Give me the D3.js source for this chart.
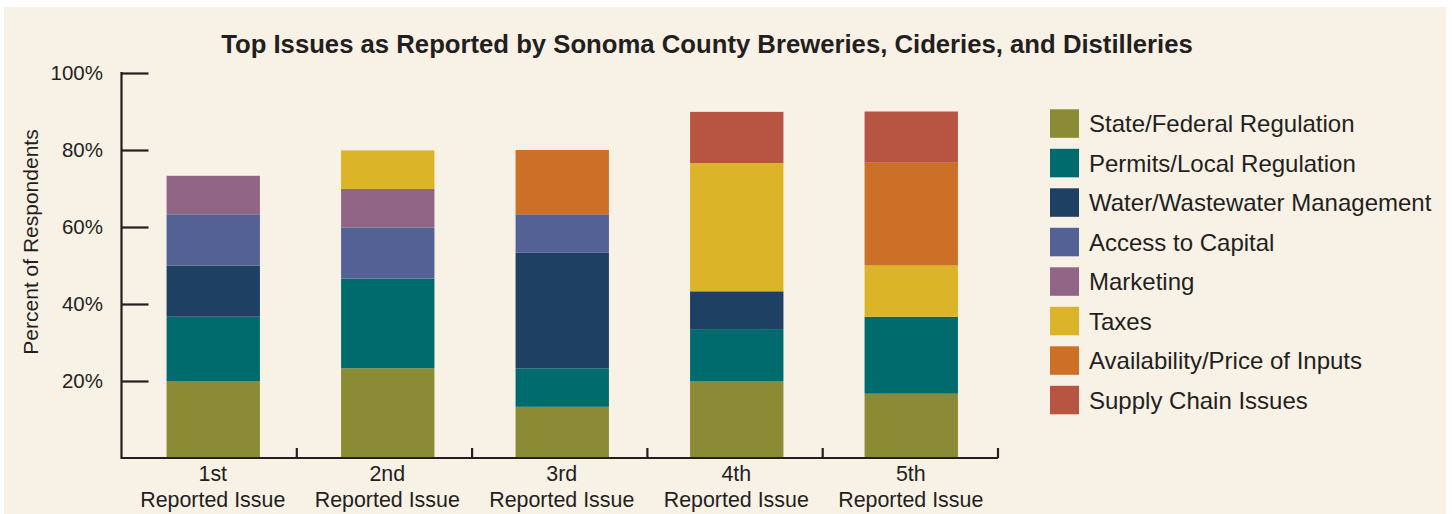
<!DOCTYPE html>
<html><head><meta charset="utf-8">
<script src="https://cdn.jsdelivr.net/npm/d3@7"></script>
<style>body{margin:0;background:#fff;}svg{display:block;}text{font-family:"Liberation Sans",Arial,sans-serif;fill:#231f20;}</style>
</head><body>
<svg id="chart" width="1452" height="514"></svg>
<script>
const categories = ["1st", "2nd", "3rd", "4th", "5th"];
const categorySub = "Reported Issue";
const seriesNames = ["State/Federal Regulation", "Permits/Local Regulation", "Water/Wastewater Management", "Access to Capital", "Marketing", "Taxes", "Availability/Price of Inputs", "Supply Chain Issues"];
const seriesColors = ["#8b8b35", "#006b6d", "#1e4063", "#536195", "#916585", "#dcb427", "#cc7028", "#b85442"];
const stateFederal = [20, 23.3, 13.3, 20, 16.7];
const permitsLocal = [16.7, 23.3, 10, 13.3, 20];
const water = [13.3, 0, 30, 10, 0];
const capital = [13.3, 13.3, 10, 0, 0];
const marketing = [10, 10, 0, 0, 0];
const taxes = [0, 10, 0, 33.3, 13.3];
const inputs = [0, 0, 16.7, 0, 26.7];
const supplyChain = [0, 0, 0, 13.3, 13.3];
const yTicks = [20, 40, 60, 80, 100];
const title = "Top Issues as Reported by Sonoma County Breweries, Cideries, and Distilleries";
const yLabel = "Percent of Respondents";

const seriesValues = [stateFederal, permitsLocal, water, capital, marketing, taxes, inputs, supplyChain];
const table = categories.map((c, i) => {
  const row = {cat: c};
  seriesNames.forEach((s, j) => row[s] = seriesValues[j][i]);
  return row;
});
const stacked = d3.stack().keys(seriesNames)(table);

const svg = d3.select("#chart");
svg.append("rect").attr("x", 4).attr("y", 7).attr("width", 1442).attr("height", 507).attr("fill", "#f8f1e6");

const y = d3.scaleLinear().domain([0, 100]).range([458, 73]);
const xAxisScale = d3.scaleBand().domain(categories).range([121.5, 998]);
const xBar = d3.scaleBand().domain(categories).range([126, 998.5]).paddingInner(0.465).paddingOuter(0.2325);
const color = d3.scaleOrdinal().domain(seriesNames).range(seriesColors);

// bars
svg.append("g").selectAll("g").data(stacked).join("g")
  .attr("fill", d => color(d.key))
  .selectAll("rect").data(d => d.filter(p => p[1] - p[0] > 0)).join("rect")
  .attr("x", d => xBar(d.data.cat))
  .attr("width", xBar.bandwidth())
  .attr("y", d => y(d[1]))
  .attr("height", d => y(d[0]) - y(d[1]));

// y axis
const yAxis = d3.axisRight(y).tickValues(yTicks).tickSize(27).tickFormat("");
const gy = svg.append("g").attr("transform", "translate(121.5,0)").call(yAxis);
gy.select(".domain").remove();
gy.selectAll(".tick line").attr("stroke", "#231f20").attr("stroke-width", 2.2);
svg.append("line").attr("x1", 121.5).attr("x2", 121.5).attr("y1", y(100) - 1.1).attr("y2", y(0) + 1.1).attr("stroke", "#231f20").attr("stroke-width", 2.2);
svg.append("g").selectAll("text").data(yTicks).join("text")
  .attr("x", 103).attr("y", d => y(d)).attr("dy", "0.36em")
  .attr("text-anchor", "end").style("font-size", "20.5px").text(d => d + "%");

// x axis
svg.append("line").attr("x1", 121.5).attr("x2", 998).attr("y1", y(0)).attr("y2", y(0)).attr("stroke", "#231f20").attr("stroke-width", 2.2);
svg.append("g").selectAll("line").data(categories).join("line")
  .attr("x1", d => xAxisScale(d) + xAxisScale.step()).attr("x2", d => xAxisScale(d) + xAxisScale.step())
  .attr("y1", y(0)).attr("y2", y(0) - 10).attr("stroke", "#231f20").attr("stroke-width", 2.2);
const xl = svg.append("g").selectAll("text").data(categories).join("text")
  .attr("text-anchor", "middle").style("font-size", "21.4px")
  .attr("transform", d => `translate(${xBar(d) + xBar.bandwidth() / 2 - 0.5},0)`);
xl.append("tspan").attr("x", 0).attr("y", 481).text(d => d);
xl.append("tspan").attr("x", 0).attr("y", 507).text(categorySub);

// y label
svg.append("text").attr("transform", "translate(38,242) rotate(-90)")
  .attr("text-anchor", "middle").style("font-size", "21px").text(yLabel);

// title
svg.append("text").attr("x", 707).attr("y", 53).attr("text-anchor", "middle")
  .style("font-size", "25.7px").style("font-weight", "bold").text(title);

// legend
const lg = svg.append("g").selectAll("g").data(seriesNames).join("g")
  .attr("transform", (d, i) => `translate(1050,${109.3 + i * 39.5})`);
lg.append("rect").attr("width", 29).attr("height", 28.5).attr("fill", d => color(d));
lg.append("text").attr("x", 39).attr("y", 23).style("font-size", "24px").text(d => d);
</script>
</body></html>
